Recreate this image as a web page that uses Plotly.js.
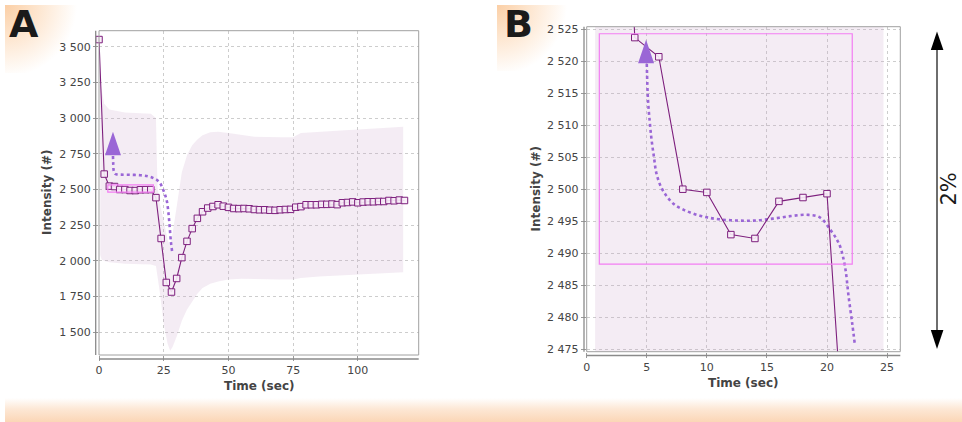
<!DOCTYPE html>
<html>
<head>
<meta charset="utf-8">
<script src="https://cdn.plot.ly/plotly-3.0.1.min.js"></script>
<style>
  html, body { margin:0; padding:0; background:#ffffff; }
  #wrap { position:relative; width:962px; height:422px; overflow:hidden; background:#ffffff; }
  .deco { position:absolute; z-index:0; }
  #glowA { left:5px; top:5px; width:72px; height:68px;
    background: radial-gradient(circle 72px at 0 0, #fbcfa6 0%, #fde3ca 40%, rgba(255,255,255,0) 100%); }
  #glowB { left:497px; top:5px; width:70px; height:66px;
    background: radial-gradient(circle 70px at 0 0, #fbcfa6 0%, #fde3ca 40%, rgba(255,255,255,0) 100%); }
  #strip { left:5px; top:398px; width:957px; height:24px;
    background: linear-gradient(to bottom, rgba(255,255,255,0) 0%, #fde8d6 45%, #fbd6b6 100%); }
  #chart { position:absolute; left:0; top:0; width:962px; height:422px; z-index:1; }
</style>
</head>
<body>
<div id="wrap">
  <div class="deco" id="glowA"></div>
  <div class="deco" id="glowB"></div>
  <div class="deco" id="strip"></div>
  <div id="chart"></div>
</div>
<script>
// ---------------- data ----------------
const timeSec = [0,2,4,6,8,10,12,14,16,18,20,22,24,26,28,30,32,34,36,38,40,42,44,46,48,50,52,54,56,58,
                 60,62,64,66,68,70,72,74,76,78,80,82,84,86,88,90,92,94,96,98,100,102,104,106,108,110,112,114,116,118];
const intensity = [3550,2608,2523.7,2520.7,2500.0,2499.5,2492.9,2492.3,2498.1,2498.7,2499.3,2443,2157,1849,1782,1877,2023,2137,2226,2298,
                   2344,2370,2381,2393,2383,2375,2367,2366,2367,2365,2360,2358,2358,2355,2354,2358,2360,2361,2376,2380,
                   2393,2393,2393,2396,2396,2398,2394,2407,2409,2413,2407,2412,2414,2414,2416,2416,2423,2421,2426,2423];

// spread band, panel A
const bandAx  = [0.5,1,2,4,10,20,22,22.6,23.5,25,26.5,27.5,28.5,30,32,34,36,38,40,43,46,50,55,60,70,75,78,85,95,105,117.5];
const bandAhi = [3250,3200,3100,3060,3040,3030,3000,2520,2400,2280,2150,2100,2200,2380,2620,2740,2810,2850,2880,2900,2905,2895,2880,2870,2865,2865,2895,2905,2915,2925,2940];
const bandAlo = [2040,2010,2000,1990,1980,1975,1965,1900,1780,1560,1420,1370,1400,1470,1580,1660,1720,1770,1810,1840,1855,1870,1875,1872,1870,1870,1880,1890,1900,1910,1920];

// spread band, panel B
const bandBx  = [0.7,24.7];
const bandBhi = [2600,2600];
const bandBlo = [2400,2400];

// fitted (dotted) curve, panel A
const fitAx = [5.4,5.5,5.7,6.2,7,8.5,12,16,19,21,22.5,23.6,24.5,25.4,26.2,26.8,27.3,27.8,28.3];
const fitAy = [2735,2680,2630,2610,2605,2604,2603,2600,2592,2580,2565,2545,2510,2470,2420,2340,2240,2130,2060];

// fitted (dotted) curve, panel B
const fitBx = [5.0,5.1,5.25,5.4,5.6,5.8,6.2,6.7,7.3,8.05,9,10,11,12.5,14,15.5,17,18.3,19.4,20.3,20.8,21.1,21.5,21.8,22.1,22.3];
const fitBy = [2519.6,2514,2510.5,2507.7,2505,2502.5,2500.3,2498.8,2497.6,2496.8,2496.1,2495.6,2495.3,2495.1,2495.1,2495.4,2495.8,2496.0,2495.6,2493.6,2492.2,2491,2487.9,2483.2,2479,2476];

// start markers (triangle) and zoom windows
const startA = {x:5.4, y:2739.5};
const startB = {x:4.94, y:2519.7};
const zoomBoxA = {x0:3.4, x1:21, y0:2482, y1:2532};
const zoomBoxB = {x0:1.05, x1:22.1, y0:2488.3, y1:2524.3};

const tickA_y = [1500,1750,2000,2250,2500,2750,3000,3250,3500];
const tickA_x = [0,25,50,75,100];
const tickB_y = [2475,2480,2485,2490,2495,2500,2505,2510,2515,2520,2525];
const tickB_x = [0,5,10,15,20,25];

// ---------------- styles ----------------
const W = 962, H = 422;
const px = v => v / W;
const py = v => 1 - v / H;
const LINE = '#7d1f7d';
const FIT = '#9a66d6';
const BANDFILL = 'rgba(200,160,200,0.2)';
const MAG = '#f27df2';

function band(x, lo, hi, xa, ya) {
  return [
    {x: x, y: lo, xaxis: xa, yaxis: ya, mode: 'lines', line: {width: 0, color: 'rgba(0,0,0,0)'}, hoverinfo: 'skip'},
    {x: x, y: hi, xaxis: xa, yaxis: ya, mode: 'lines', line: {width: 0, color: 'rgba(0,0,0,0)'}, fill: 'tonexty', fillcolor: BANDFILL, hoverinfo: 'skip'}
  ];
}

const traces = [
  ...band(bandAx, bandAlo, bandAhi, 'x', 'y'),
  {x: fitAx, y: fitAy, xaxis: 'x', yaxis: 'y', mode: 'lines', line: {color: FIT, width: 2.6, dash: 'dot', shape: 'spline'}},
  {x: timeSec, y: intensity, xaxis: 'x', yaxis: 'y', mode: 'lines+markers', cliponaxis: false,
   line: {color: LINE, width: 1.1},
   marker: {symbol: 'square', size: 6.5, color: 'rgba(248,238,248,0.9)', line: {color: LINE, width: 1}}},
  ...band(bandBx, bandBlo, bandBhi, 'x2', 'y2'),
  {x: fitBx, y: fitBy, xaxis: 'x2', yaxis: 'y2', mode: 'lines', line: {color: FIT, width: 2.6, dash: 'dot', shape: 'spline'}},
  {x: timeSec, y: intensity, xaxis: 'x2', yaxis: 'y2', mode: 'lines+markers',
   line: {color: LINE, width: 1.1},
   marker: {symbol: 'square', size: 6.5, color: 'rgba(248,238,248,0.9)', line: {color: LINE, width: 1}}}
];

const axBase = {
  showline: false, zeroline: false, mirror: false,
  showgrid: true, gridcolor: '#cdcdcd', griddash: '3px,3px', gridwidth: 1,
  ticks: 'outside', ticklen: 5, tickcolor: '#9a9a9a', tickwidth: 1,
  tickfont: {family: 'DejaVu Sans', size: 11, color: '#444'},
  separatethousands: true, fixedrange: true, tickmode: 'array'
};

const frame = (xr, yr) => ({type: 'rect', xref: xr + ' domain', yref: yr + ' domain', x0: 0, x1: 1, y0: 0, y1: 1,
  line: {color: '#a0a0a0', width: 1}, fillcolor: 'rgba(0,0,0,0)', layer: 'above'});
const pline = (x0, y0, x1, y1, color, width) => ({type: 'line', xref: 'paper', yref: 'paper',
  x0: px(x0), y0: py(y0), x1: px(x1), y1: py(y1), line: {color: color, width: width}});
const tri = (s, xr, yr) => ({type: 'path', xref: xr, yref: yr, xsizemode: 'pixel', ysizemode: 'pixel',
  xanchor: s.x, yanchor: s.y, path: 'M-8,0 L8,0 L0,23.5 Z', fillcolor: FIT, line: {width: 0}, layer: 'above'});
const box = (b, xr, yr) => ({type: 'rect', xref: xr, yref: yr, x0: b.x0, x1: b.x1, y0: b.y0, y1: b.y1,
  line: {color: MAG, width: 1.2}, fillcolor: 'rgba(0,0,0,0)', layer: 'above'});
const ppath = (pts, color) => ({type: 'path', xref: 'paper', yref: 'paper',
  path: 'M' + pts.map(p => px(p[0]) + ',' + py(p[1])).join(' L') + ' Z', fillcolor: color, line: {width: 0}});

const layout = {
  width: W, height: H, margin: {l: 0, r: 0, t: 0, b: 0, pad: 0},
  paper_bgcolor: 'rgba(0,0,0,0)', plot_bgcolor: '#ffffff',
  separators: '. ', showlegend: false, hovermode: false,
  font: {family: 'DejaVu Sans', size: 11, color: '#444'},
  xaxis: {...axBase, domain: [px(99), px(418.7)], range: [0, 123.5], anchor: 'y', tickvals: tickA_x},
  yaxis: {...axBase, domain: [py(355), py(30.7)], range: [1341, 3612], anchor: 'x', tickvals: tickA_y},
  xaxis2: {...axBase, domain: [px(586.7), px(900.3)], range: [0, 26.1], anchor: 'y2', tickvals: tickB_x},
  yaxis2: {...axBase, domain: [py(351.7), py(26.7)], range: [2474.6, 2525.4], anchor: 'x2', tickvals: tickB_y},
  shapes: [
    frame('x', 'y'), frame('x2', 'y2'),
    pline(95.7, 30.7, 95.7, 355, '#8a8a8a', 1.3),
    pline(99, 359, 418.7, 359, '#8a8a8a', 1.3),
    pline(584, 26.7, 584, 351.7, '#8a8a8a', 1.3),
    pline(586.7, 355.5, 900.3, 355.5, '#8a8a8a', 1.3),
    box(zoomBoxA, 'x', 'y'), box(zoomBoxB, 'x2', 'y2'),
    tri(startA, 'x', 'y'), tri(startB, 'x2', 'y2'),
    // 2% double arrow
    pline(937, 48, 937, 332, '#6e6e6e', 2),
    ppath([[937, 31.5], [930.8, 50], [943.4, 50]], '#000000'),
    ppath([[937, 349], [930.8, 330], [943.4, 330]], '#000000')
  ],
  annotations: [
    {text: '<b>A</b>', x: px(24), y: py(24), xref: 'paper', yref: 'paper', xanchor: 'center', yanchor: 'middle', showarrow: false,
     font: {family: 'DejaVu Sans', size: 38, color: '#1a1a1a'}},
    {text: '<b>B</b>', x: px(518.5), y: py(24), xref: 'paper', yref: 'paper', xanchor: 'center', yanchor: 'middle', showarrow: false,
     font: {family: 'DejaVu Sans', size: 38, color: '#1a1a1a'}},
    {text: '2%', x: px(948.5), y: py(189), xref: 'paper', yref: 'paper', xanchor: 'center', yanchor: 'middle', showarrow: false,
     textangle: -90, font: {family: 'DejaVu Sans', size: 21, color: '#1a1a1a'}},
    {text: '<b>Intensity (#)</b>', x: px(47), y: py(193), xref: 'paper', yref: 'paper', xanchor: 'center', yanchor: 'middle', showarrow: false,
     textangle: -90, font: {family: 'DejaVu Sans', size: 12, color: '#444'}},
    {text: '<b>Intensity (#)</b>', x: px(535.5), y: py(189), xref: 'paper', yref: 'paper', xanchor: 'center', yanchor: 'middle', showarrow: false,
     textangle: -90, font: {family: 'DejaVu Sans', size: 12, color: '#444'}},
    {text: '<b>Time (sec)</b>', x: px(258.5), y: py(385.5), xref: 'paper', yref: 'paper', xanchor: 'center', yanchor: 'middle', showarrow: false,
     font: {family: 'DejaVu Sans', size: 12, color: '#444'}},
    {text: '<b>Time (sec)</b>', x: px(743), y: py(383), xref: 'paper', yref: 'paper', xanchor: 'center', yanchor: 'middle', showarrow: false,
     font: {family: 'DejaVu Sans', size: 12, color: '#444'}}
  ]
};

Plotly.newPlot('chart', traces, layout, {staticPlot: true, displayModeBar: false});
</script>
</body>
</html>
